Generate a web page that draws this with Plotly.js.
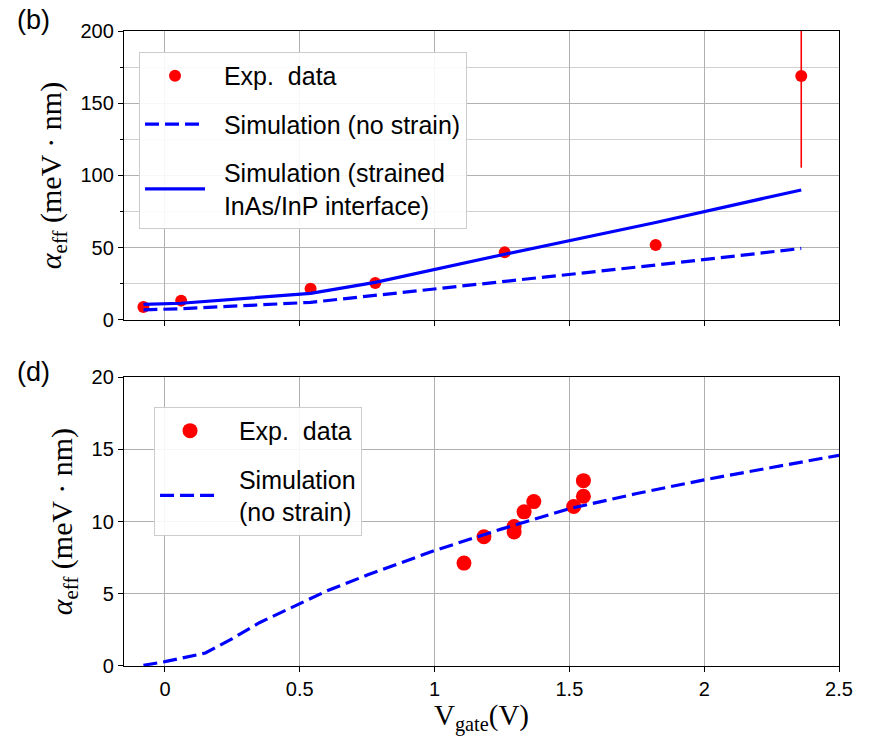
<!DOCTYPE html>
<html>
<head>
<meta charset="utf-8">
<script src="https://cdn.plot.ly/plotly-3.0.1.min.js"></script>
<style>
  html, body { margin: 0; padding: 0; background: #fff; }
  #chart { width: 869px; height: 736px; }
</style>
</head>
<body>
<div id="chart"></div>
<script>
// Panel (b): gate-voltage points with measured and simulated alpha_eff
const vgateB = [-0.08, 0.06, 0.54, 0.78, 1.26, 1.82, 2.36];
const expAlphaB = [9.0, 13.4, 21.7, 25.6, 46.8, 51.9, 168.9];
const expErrB = [0, 0, 0, 0, 0, 0, 63.5];
const simNoStrainB = [7.0, 7.8, 12.2, 17.0, 26.5, 38.0, 49.5];
const simStrainedB = [10.8, 11.6, 18.4, 26.0, 45.5, 67.5, 90.0];

// Panel (d): simulated curve and measured points
const vgateSimD = [-0.08, 0, 0.15, 0.25, 0.35, 0.5, 0.6, 0.75, 1.0, 1.25, 1.5, 1.75, 2.0, 2.25, 2.5];
const simNoStrainD = [0.05, 0.3, 0.9, 1.9, 3.0, 4.3, 5.2, 6.3, 8.0, 9.5, 10.9, 11.95, 12.9, 13.75, 14.6];
const vgateExpD = [1.109, 1.183, 1.295, 1.295, 1.332, 1.368, 1.516, 1.552, 1.552];
const expAlphaD = [7.13, 8.95, 9.66, 9.29, 10.68, 11.39, 11.05, 11.76, 12.84];

const xTicks = [0, 0.5, 1, 1.5, 2, 2.5];
const xTickText = ['0', '0.5', '1', '1.5', '2', '2.5'];
const yTicksB = [0, 50, 100, 150, 200];
const yTicksD = [0, 5, 10, 15, 20];

const RED = '#ff0000';
const BLUE = '#0000ff';
const sans = 'Liberation Sans, Arial, sans-serif';
const serif = 'Liberation Serif, DejaVu Serif, serif';
const pad = '\u00a0\u00a0';   // gap between legend symbol and label

const traces = [
  {
    x: vgateB, y: expAlphaB, type: 'scatter', mode: 'markers',
    name: pad + 'Exp.  data', legend: 'legend', legendgroup: 'b1',
    marker: { color: RED, size: 12 },
    error_y: { type: 'data', array: expErrB, visible: true, color: RED, thickness: 1.6, width: 0 },
    xaxis: 'x', yaxis: 'y'
  },
  {
    x: vgateB, y: simNoStrainB, type: 'scatter', mode: 'lines',
    name: pad + 'Simulation (no strain)', legend: 'legend', legendgroup: 'b2',
    line: { color: BLUE, width: 3.2, dash: '14px,6px' },
    xaxis: 'x', yaxis: 'y'
  },
  {
    x: vgateB, y: simStrainedB, type: 'scatter', mode: 'lines',
    name: pad + 'Simulation (strained<br>' + pad + 'InAs/InP interface)', legend: 'legend', legendgroup: 'b3',
    line: { color: BLUE, width: 3.2 },
    xaxis: 'x', yaxis: 'y'
  },
  {
    x: vgateExpD, y: expAlphaD, type: 'scatter', mode: 'markers',
    name: pad + 'Exp.  data', legend: 'legend2', legendgroup: 'd1',
    marker: { color: RED, size: 15 },
    xaxis: 'x2', yaxis: 'y2'
  },
  {
    x: vgateSimD, y: simNoStrainD, type: 'scatter', mode: 'lines',
    name: pad + 'Simulation<br>' + pad + '(no strain)', legend: 'legend2', legendgroup: 'd2',
    line: { color: BLUE, width: 3.2, dash: '14px,6px' },
    xaxis: 'x2', yaxis: 'y2'
  }
];

const baseX = {
  range: [-0.152, 2.5],
  tickvals: xTicks,
  ticktext: xTickText,
  ticks: 'outside', ticklen: 5, tickwidth: 1, tickcolor: '#000',
  showline: true, linecolor: '#000', linewidth: 1.2, mirror: true,
  showgrid: true, gridcolor: '#b0b0b0', gridwidth: 1,
  zeroline: false,
  tickfont: { family: sans, size: 20, color: '#000' }
};

const baseY = {
  ticks: 'outside', ticklen: 5, tickwidth: 1, tickcolor: '#000',
  showline: true, linecolor: '#000', linewidth: 1.2, mirror: true,
  showgrid: true, gridcolor: '#b0b0b0', gridwidth: 1,
  zeroline: false,
  tickfont: { family: sans, size: 20, color: '#000' }
};

const yTitle = {
  text: '<i>α</i><sub>eff</sub> (meV · nm)',
  font: { family: serif, size: 30, color: '#000' },
  standoff: 10
};

const legendBase = {
  bgcolor: 'rgba(255,255,255,0.9)',
  bordercolor: '#cccccc', borderwidth: 1,
  font: { family: sans, size: 25, color: '#000' },
  itemwidth: 60,
  tracegroupgap: 13,
  xanchor: 'left', yanchor: 'top'
};

const layout = {
  width: 869, height: 736,
  margin: { l: 124, r: 30, t: 31, b: 70 },
  paper_bgcolor: '#fff', plot_bgcolor: '#fff',
  showlegend: true,
  xaxis: Object.assign({}, baseX, {
    domain: [0, 1], anchor: 'y', matches: 'x2', showticklabels: false
  }),
  yaxis: Object.assign({}, baseY, {
    domain: [0.5449, 1], anchor: 'x',
    range: [0, 200], tickvals: yTicksB,
    minor: { dtick: 25, ticks: 'outside', ticklen: 3, tickcolor: '#000', showgrid: true, gridcolor: '#d0d0d0', gridwidth: 1 },
    title: yTitle
  }),
  xaxis2: Object.assign({}, baseX, {
    domain: [0, 1], anchor: 'y2',
    title: { text: 'V<sub>gate</sub>(V)', font: { family: serif, size: 29, color: '#000' }, standoff: 4 }
  }),
  yaxis2: Object.assign({}, baseY, {
    domain: [0, 0.4546], anchor: 'x2',
    range: [0, 20], tickvals: yTicksD,
    title: yTitle
  }),
  legend: Object.assign({}, legendBase, { x: 0.021, y: 0.967 }),
  legend2: Object.assign({}, legendBase, { x: 0.042, y: 0.408 }),
  annotations: [
    { text: '(b)', xref: 'paper', yref: 'paper', x: -0.152, y: 1.017, xanchor: 'left', yanchor: 'middle',
      showarrow: false, font: { family: sans, size: 27, color: '#000' } },
    { text: '(d)', xref: 'paper', yref: 'paper', x: -0.152, y: 0.463, xanchor: 'left', yanchor: 'middle',
      showarrow: false, font: { family: sans, size: 27, color: '#000' } }
  ]
};

Plotly.newPlot('chart', traces, layout, { displayModeBar: false, staticPlot: true });
</script>
</body>
</html>
